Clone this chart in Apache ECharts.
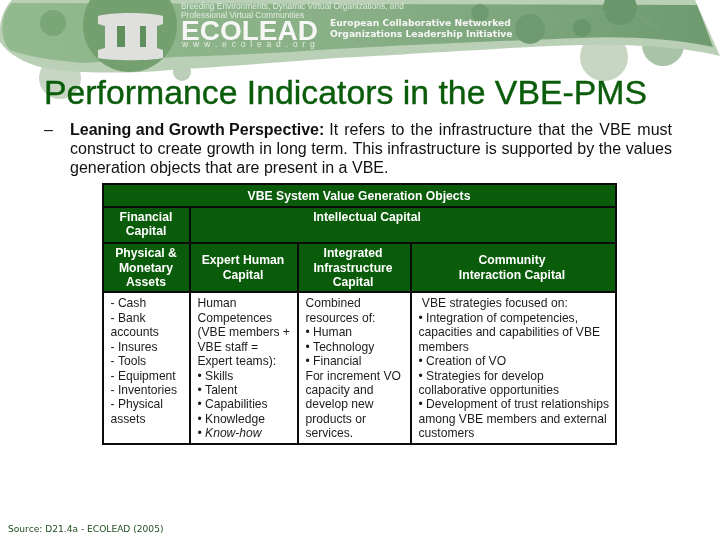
<!DOCTYPE html>
<html>
<head>
<meta charset="utf-8">
<title>Performance Indicators in the VBE-PMS</title>
<script src="https://cdn.jsdelivr.net/npm/echarts@6/dist/echarts.min.js"></script>
<style>
  html, body { margin: 0; padding: 0; background: #fff; }
  #main { width: 720px; height: 540px; }
</style>
</head>
<body>
<div id="main"></div>
<script>
var titleText = 'Performance Indicators in the VBE-PMS';
var introLead = 'Leaning and Growth Perspective:';
var introLines = [
  'It refers to the infrastructure that the VBE must',
  'construct to create growth in long term. This infrastructure is supported by the values',
  'generation objects that are present in a VBE.'
];
var headerRow = 'VBE System Value Generation Objects';
var capitalGroups = ['Financial\nCapital', 'Intellectual Capital'];
var capitalTypes = ['Physical &\nMonetary\nAssets', 'Expert Human\nCapital', 'Integrated\nInfrastructure\nCapital', 'Community\nInteraction Capital'];
var financialItems = ['- Cash', '- Bank', 'accounts', '- Insures', '- Tools', '- Equipment', '- Inventories', '- Physical', 'assets'];
var humanItems = ['Human', 'Competences', '(VBE members +', 'VBE staff =', 'Expert teams):', '• Skills', '• Talent', '• Capabilities', '• Knowledge', '• Know-how'];
var infraItems = ['Combined', 'resources of:', '• Human', '• Technology', '• Financial', 'For increment VO', 'capacity and', 'develop new', 'products or', 'services.'];
var communityItems = [' VBE strategies focused on:', '• Integration of competencies,', 'capacities and capabilities of VBE', 'members', '• Creation of VO', '• Strategies for develop', 'collaborative opportunities', '• Development of trust relationships', 'among VBE members and external', 'customers'];
var sourceText = 'Source: D21.4a - ECOLEAD (2005)';
var logoName = 'ECOLEAD';
var logoUrl = 'w  w  w  .  e  c  o  l  e  a  d  .  o  r  g';
var logoTag = ['Breeding Environments, Dynamic Virtual Organizations, and', 'Professional Virtual Communities'];
var logoSide = ['European Collaborative Networked', 'Organizations Leadership Initiative'];

var FONT = '"Liberation Sans", Arial, sans-serif';
var GREEN = '#0a5c0a';
var colX = [103, 190, 298, 411, 616];
var rowY = [184, 207, 243, 292, 444];

var measure = document.createElement('canvas').getContext('2d');
function textWidth(str, font) {
  measure.font = font;
  return measure.measureText(str).width;
}

function label(x, y, str, size, fill, extra) {
  var style = { x: x, y: y, text: str, fill: fill, font: size + 'px ' + FONT, textVerticalAlign: 'middle' };
  for (var k in extra) { style[k] = extra[k]; }
  return { type: 'text', z: 10, style: style };
}

// spread words over the line so both edges line up
function justified(x, right, y, str, size, fill) {
  var font = size + 'px ' + FONT;
  var words = str.split(' ');
  var used = 0;
  words.forEach(function (w) { used += textWidth(w, font); });
  var gap = (right - x - used) / (words.length - 1);
  var out = [];
  words.forEach(function (w) {
    out.push(label(x, y, w, size, fill));
    x += textWidth(w, font) + gap;
  });
  return out;
}

var shapeCount = 0;
function banner() {
  var items = [];
  // graphic has no plain "path" type, so each svg path gets registered as a shape
  function path(d, fill, opacity) {
    var name = 'bannerShape' + (shapeCount++);
    echarts.graphic.registerShape(name, echarts.graphic.extendPath(d, {}));
    items.push({ type: name, style: { fill: fill, opacity: opacity == null ? 1 : opacity } });
  }
  function dot(cx, cy, r, fill, opacity) {
    items.push({ type: 'circle', shape: { cx: cx, cy: cy, r: r }, style: { fill: fill, opacity: opacity == null ? 1 : opacity } });
  }
  function thin(x1, y1, x2, y2) {
    items.push({ type: 'line', shape: { x1: x1, y1: y1, x2: x2, y2: y2 }, style: { stroke: '#7fa67e', lineWidth: 1 } });
  }
  // pale circles sit behind the band
  dot(60, 78, 21, '#c6d6c3');
  dot(182, 72, 9, '#bccfb9');
  dot(604, 57, 24, '#c6d6c3');
  dot(663, 45, 21, '#a9c3a6');
  // pale sweep
  path('M12 0 L695 0 C704 20 712 38 720 56 C680 46 620 44 580 45 C540 46 510 48 480 50 C420 53 380 56 337 58 C280 62 220 67 170 70 C140 73 110 73 83 72 C65 71 50 70 40 67 C25 63 8 54 0 42 C-2 22 4 8 12 0 Z', '#b9cfb6');
  // main band
  var band = echarts.graphic.LinearGradient;
  path('M12 3 L697 5 C703 20 708 34 713 47 C670 38 620 36 580 38 C500 41 400 45 320 50 C280 53 210 56 177 57 L83 63 C50 60 25 56 10 50 C0 42 -1 15 12 3 Z',
    new band(0, 0, 1, 0, [{ offset: 0, color: '#93ba8f' }, { offset: 0.5, color: '#88af85' }, { offset: 1, color: '#6f9a70' }]));
  dot(53, 23, 13, '#7ba678');
  dot(130, 25, 47, '#74a06f');
  dot(480, 13, 9, '#6f9a70');
  dot(530, 29, 15, '#6f9a70');
  dot(582, 28, 9, '#6a966b');
  dot(620, 8, 17, '#6a966b');
  thin(545, 24, 606, 12);
  thin(636, 14, 660, 30);
  thin(612, 24, 605, 36);
  // pillar logo
  path('M98 16 C110 12 150 12 163 16 L163 24 L157 26 L157 48 L163 50 L163 58 C150 61 110 61 98 58 L98 50 L105 48 L105 26 L98 24 Z', '#dfe0de');
  path('M117 26 L125 26 L125 47 L117 47 Z M140 26 L146 26 L146 47 L140 47 Z', '#5f8f5c');
  items.push(label(181, 7, logoTag[0], 8.4, '#e2ebe0'));
  items.push(label(181, 16, logoTag[1], 8.4, '#e2ebe0'));
  items.push(label(181, 32, logoName, 28, '#f6f7f4', { font: 'bold 28px ' + FONT }));
  items.push(label(182, 45, logoUrl, 8.6, '#e6ede4'));
  items.push(label(330, 24, logoSide[0], 9.2, '#f6f7f4', { font: 'bold 9.2px "DejaVu Sans", sans-serif' }));
  items.push(label(330, 35, logoSide[1], 9.2, '#f6f7f4', { font: 'bold 9.2px "DejaVu Sans", sans-serif' }));
  return items;
}

function intro() {
  var items = [];
  var size = 16;
  items.push(label(44, 131, '–', size, '#111'));
  var leadFont = 'bold ' + size + 'px ' + FONT;
  items.push(label(70, 131, introLead, size, '#111', { font: leadFont }));
  var leadEnd = 70 + textWidth(introLead, leadFont) + 5;
  items = items.concat(justified(leadEnd, 672, 131, introLines[0], size, '#111'));
  items = items.concat(justified(70, 672, 150, introLines[1], size, '#111'));
  items.push(label(70, 169, introLines[2], size, '#111'));
  return items;
}

function table() {
  var items = [];
  var size = 12.1;
  var headFont = 'bold 12.2px ' + FONT;
  var lineStyle = { stroke: '#0b0b0b', lineWidth: 2 };
  function band(x0, y0, x1, y1) {
    items.push({ type: 'rect', shape: { x: x0, y: y0, width: x1 - x0, height: y1 - y0 }, style: { fill: GREEN } });
  }
  function hline(x0, x1, y) {
    items.push({ type: 'line', z: 5, shape: { x1: x0, y1: y, x2: x1, y2: y }, style: lineStyle });
  }
  function vline(x, y0, y1) {
    items.push({ type: 'line', z: 5, shape: { x1: x, y1: y0, x2: x, y2: y1 }, style: lineStyle });
  }
  function centred(cx, firstY, str) {
    str.split('\n').forEach(function (line, i) {
      items.push(label(cx, firstY + i * 14.4, line, size, '#fff', { textAlign: 'center', font: headFont }));
    });
  }
  band(colX[0], rowY[0], colX[4], rowY[3]);
  rowY.forEach(function (y) { hline(colX[0] - 1, colX[4] + 1, y); });
  vline(colX[0], rowY[0], rowY[4]);
  vline(colX[4], rowY[0], rowY[4]);
  vline(colX[1], rowY[1], rowY[4]);
  vline(colX[2], rowY[2], rowY[4]);
  vline(colX[3], rowY[2], rowY[4]);

  centred(359, 196.5, headerRow);
  centred(146, 217.5, capitalGroups[0]);
  centred(367, 217.5, capitalGroups[1]);
  centred(146, 254, capitalTypes[0]);
  centred(243, 261, capitalTypes[1]);
  centred(353, 254, capitalTypes[2]);
  centred(512, 261, capitalTypes[3]);

  [financialItems, humanItems, infraItems, communityItems].forEach(function (list, c) {
    list.forEach(function (line, i) {
      var extra = line === '• Know-how' ? { font: 'italic ' + size + 'px ' + FONT } : {};
      items.push(label(colX[c] + 7.5, 304 + i * 14.45, line, size, '#1c1c1c', extra));
    });
  });
  return items;
}

var chart = echarts.init(document.getElementById('main'), null, { renderer: 'canvas' });
chart.setOption({
  backgroundColor: '#fff',
  animation: false,
  graphic: {
    elements: banner()
      .concat([label(44, 95, titleText, 33.8, GREEN, { stroke: GREEN, lineWidth: 0.4 })])
      .concat(intro())
      .concat(table())
      .concat([{ type: 'text', z: 10, style: { x: 8, y: 530, text: sourceText, fill: '#1f4f1f', font: '9.1px "DejaVu Sans", sans-serif', textVerticalAlign: 'middle' } }])
  }
});
</script>
</body>
</html>
